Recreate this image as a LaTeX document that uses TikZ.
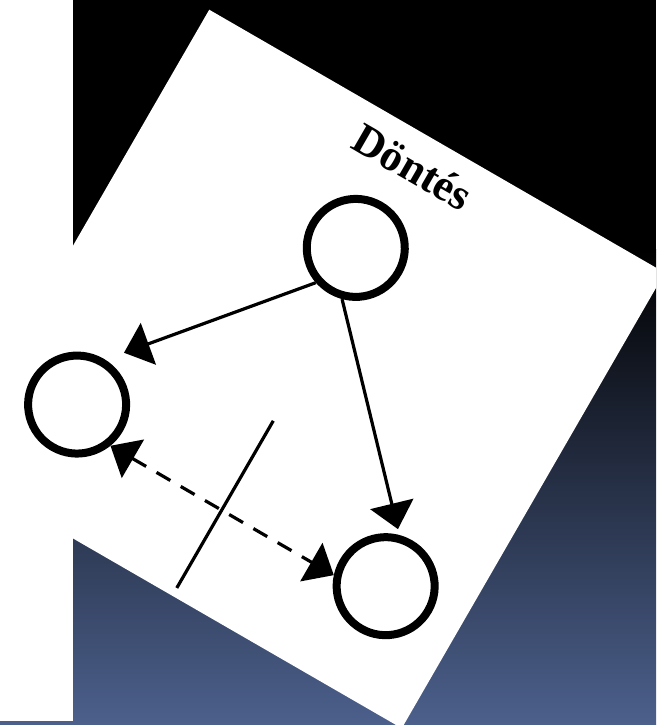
\documentclass[tikz,border=0pt]{standalone}
\usepackage{fontspec}
\setmainfont{Liberation Serif}
\usetikzlibrary{arrows.meta}

\definecolor{slideblue}{RGB}{76,96,140}

\tikzset{
    var/.style = {circle, draw, line width = 8pt, minimum size = 98pt, inner sep = 0pt},
    link/.style = {line width = 3.2pt, -{Triangle[length = 26pt, width = 44pt]}},
    bilink/.style = {line width = 3.2pt, dash pattern = on 16pt off 12pt,
        {Triangle[length = 26pt, width = 44pt]}-{Triangle[length = 26pt, width = 44pt]}}
}

\begin{document}
\begin{tikzpicture}[x=1pt, y=1pt]
\useasboundingbox (0,0) rectangle (656,725);
\clip (0,0) rectangle (656,725);
% draw background
\fill[black] (0,474) rectangle (656,725);
\shade[top color = black, bottom color = slideblue] (0,0) rectangle (656,475);
\fill[white] (0,4) rectangle (73,725);
\begin{scope}[shift={(305.5,356)}, rotate=-30, transform shape]
    % draw sheet
    \fill[white] (-263,-263) rectangle (263,263);
    % draw title
    \node[font = \bfseries\fontsize{44}{44}\selectfont] (title) at (-8,229) {Döntés};
    % draw circles
    \node[var] (T) at (-17,130) {};
    \node[var] (L) at (-180,-145) {};
    \node[var] (R) at (178,-148) {};
    % draw arrows
    \draw[link, shorten >= 20pt] (T.251) -- (L.88);
    \draw[link, shorten >= 6pt] (T.-75) -- (R.105);
    \draw[bilink] (L.-21) -- (R.198);
    % draw cut
    \coordinate (c1) at (-2,-61);
    \coordinate (c2) at (-2,-254);
    \draw[line width = 3.2pt] (c1) -- (c2);
\end{scope}
\end{tikzpicture}
\end{document}
